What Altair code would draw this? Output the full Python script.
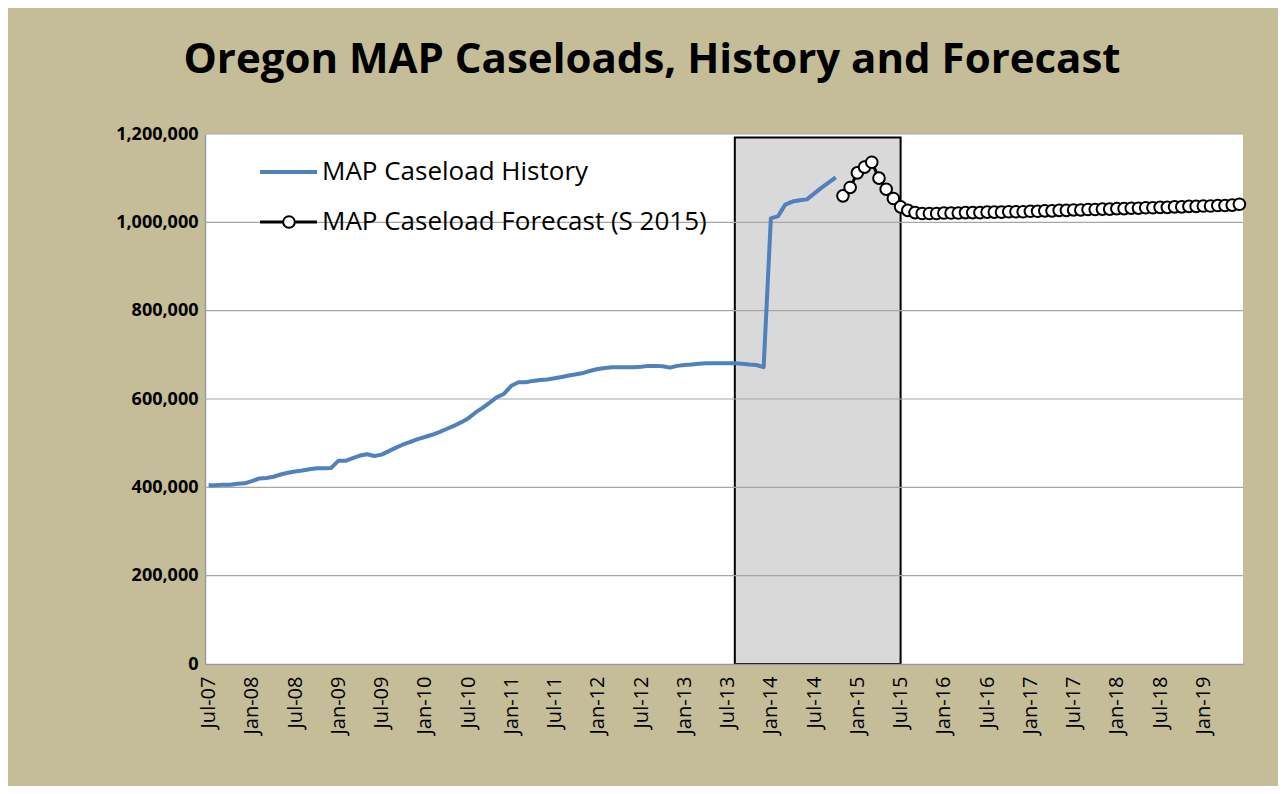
import altair as alt
import pandas as pd

# ---- data -------------------------------------------------------------
months = list(pd.date_range("2007-07-01", periods=144, freq="MS").strftime("%b-%y"))
tick_labels = months[::6]

history = [
    405, 405, 406, 406, 408, 409, 414, 420, 421, 424, 429, 433,   # Jul-07..Jun-08
    436, 438, 441, 443, 443, 444, 460, 460, 466, 472, 475, 471,   # Jul-08..Jun-09
    474, 482, 490, 497, 503, 509, 514, 519, 525, 532, 539, 547,   # Jul-09..Jun-10
    556, 569, 580, 592, 604, 612, 630, 638, 638, 641, 643, 644,   # Jul-10..Jun-11
    647, 650, 653, 656, 659, 664, 668, 670, 672, 672, 672, 672,   # Jul-11..Jun-12
    673, 675, 675, 674, 671, 675, 677, 678, 680, 681, 681, 681,   # Jul-12..Jun-13
    681, 681, 680, 678, 677, 672, 1009, 1014, 1040, 1047, 1050, 1052,  # Jul-13..Jun-14
    1065, 1078, 1090, 1102,                                       # Jul-14..Oct-14
]
forecast = [
    1060, 1079, 1112, 1125, 1136, 1100, 1075, 1054,               # Nov-14..Jun-15
    1035, 1027, 1022, 1020, 1020, 1020,                           # Jul-15..Dec-15
    1021, 1021, 1021, 1022, 1022, 1022, 1023, 1023, 1023, 1024, 1024, 1024,  # 2016
    1025, 1025, 1026, 1026, 1027, 1027, 1028, 1028, 1029, 1029, 1030, 1030,  # 2017
    1031, 1031, 1032, 1032, 1033, 1033, 1034, 1034, 1035, 1035, 1036, 1036,  # 2018
    1037, 1037, 1038, 1038, 1039, 1041,                           # Jan-19..Jun-19
]
hist_months = months[:len(history)]
fc_months = months[len(history):len(history) + len(forecast)]

box_start, box_end, box_top = "Aug-13", "Jul-15", 1192000
grid_values = [200000, 400000, 600000, 800000, 1000000, 1200000]
legend_labels = ["MAP Caseload History", "MAP Caseload Forecast (S 2015)"]
title_text = "Oregon MAP Caseloads, History and Forecast"

hist_df = pd.DataFrame({"month": hist_months, "value": [v * 1000 for v in history]})
fc_df = pd.DataFrame({"month": fc_months, "value": [v * 1000 for v in forecast]})
box_df = pd.DataFrame({"start": [box_start], "end": [box_end], "y0": [0], "y1": [box_top]})
grid_df = pd.DataFrame({"value": grid_values})
title_df = pd.DataFrame({"title": [title_text]})

# ---- style ------------------------------------------------------------
FONT = "Open Sans"
BLUE = "#4F81BD"
BG = "#C4BD97"

x_scale = alt.Scale(type="point", domain=months, padding=0.5)
y_scale = alt.Scale(domain=[0, 1200000], nice=False)

x_axis = alt.Axis(
    values=tick_labels, labelAngle=270, labelFont=FONT, labelFontSize=20,
    labelColor="#000000", labelPadding=12, ticks=False, grid=False,
    domainColor="#9A9A9A", domainWidth=1.5, title=None, labelOverlap=False,
)
y_axis = alt.Axis(
    values=[0] + grid_values, format=",.0f", labelFont=FONT, labelFontSize=18,
    labelFontWeight="bold", labelColor="#000000", labelPadding=7, ticks=False,
    grid=False, domainColor="#9A9A9A", domainWidth=1.5, title=None,
)

box = alt.Chart(box_df).mark_rect(fill="#D9D9D9", stroke="#000000", strokeWidth=2).encode(
    x=alt.X("start:O", scale=x_scale, axis=x_axis),
    x2="end:O",
    y=alt.Y("y0:Q", scale=y_scale, axis=y_axis),
    y2="y1:Q",
)

grid = alt.Chart(grid_df).mark_rule(color="#A6A6A6", strokeWidth=1.2).encode(
    y=alt.Y("value:Q", scale=y_scale)
)

hist_line = alt.Chart(hist_df).mark_line(color=BLUE, strokeWidth=4, strokeJoin="round").encode(
    x=alt.X("month:O", scale=x_scale, sort=months),
    y=alt.Y("value:Q", scale=y_scale),
)

fc_line = alt.Chart(fc_df).mark_line(color="#000000", strokeWidth=3).encode(
    x=alt.X("month:O", scale=x_scale, sort=months),
    y=alt.Y("value:Q", scale=y_scale),
)
fc_points = alt.Chart(fc_df).mark_point(
    shape="circle", filled=True, fill="#FFFFFF", stroke="#000000", strokeWidth=2,
    size=135, opacity=1,
).encode(
    x=alt.X("month:O", scale=x_scale, sort=months),
    y=alt.Y("value:Q", scale=y_scale),
)

# ---- legend (drawn inside the plot) ------------------------------------
leg1 = pd.DataFrame({"label": [legend_labels[0]]})
leg2 = pd.DataFrame({"label": [legend_labels[1]]})
leg_line1 = alt.Chart(leg1).mark_rule(color=BLUE, strokeWidth=4).encode(
    x=alt.value(55), x2=alt.value(112), y=alt.value(38))
leg_text1 = alt.Chart(leg1).mark_text(
    align="left", baseline="middle", font=FONT, fontSize=26, color="#000000").encode(
    x=alt.value(117), y=alt.value(38), text="label:N")
leg_line2 = alt.Chart(leg2).mark_rule(color="#000000", strokeWidth=3).encode(
    x=alt.value(55), x2=alt.value(112), y=alt.value(88))
leg_pt2 = alt.Chart(leg2).mark_point(
    shape="circle", filled=True, fill="#FFFFFF", stroke="#000000", strokeWidth=2,
    size=135, opacity=1).encode(x=alt.value(84), y=alt.value(88))
leg_text2 = alt.Chart(leg2).mark_text(
    align="left", baseline="middle", font=FONT, fontSize=26, color="#000000").encode(
    x=alt.value(117), y=alt.value(88), text="label:N")

# ---- title (as a text mark above the plot) -----------------------------
title = alt.Chart(title_df).mark_text(
    align="center", baseline="alphabetic", font=FONT, fontSize=42, fontWeight="bold",
    color="#000000").encode(x=alt.value(447), y=alt.value(-61), text="title:N")

chart = alt.layer(
    box, grid, hist_line, fc_line, fc_points,
    leg_line1, leg_text1, leg_line2, leg_pt2, leg_text2, title,
).properties(
    width=1038,
    height=530,
    background=BG,
    autosize=alt.AutoSizeParams(type="none"),
    padding={"left": 197, "top": 126, "right": 35, "bottom": 122},
).configure_view(
    fill="#FFFFFF", stroke=None,
)

chart.save("out.html", embed_options={"renderer": "svg", "actions": False})
